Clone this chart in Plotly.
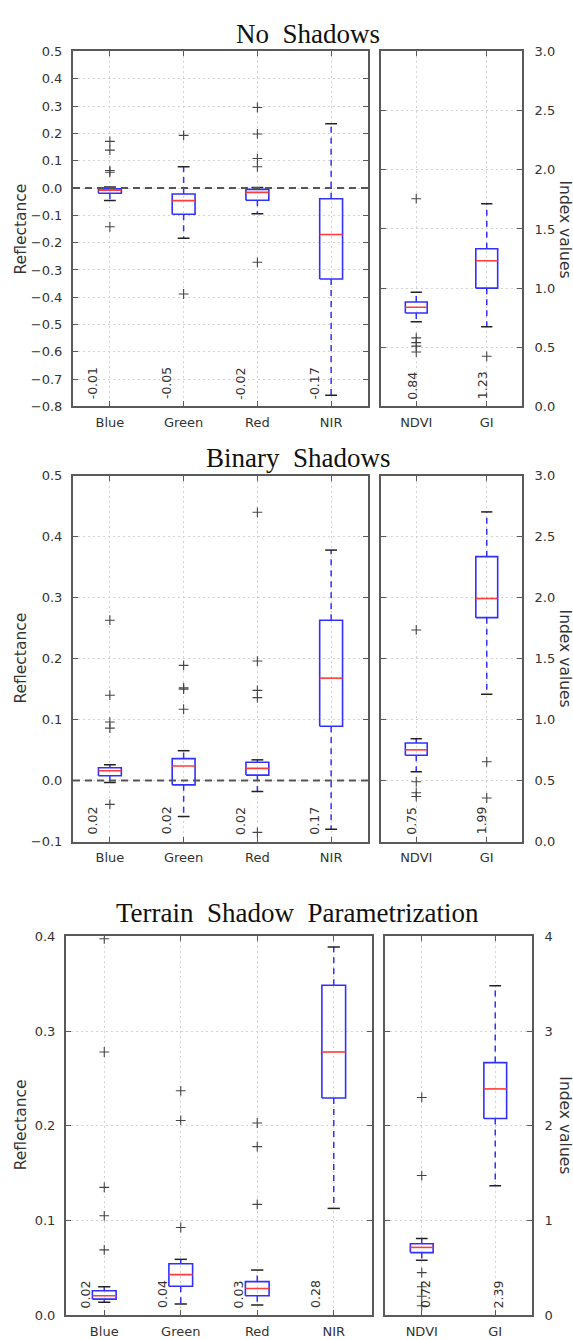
import plotly.graph_objects as go

# ---------------- data ----------------
bands = ["Blue", "Green", "Red", "NIR"]
indices = ["NDVI", "GI"]
titles = ["No  Shadows", "Binary  Shadows", "Terrain  Shadow  Parametrization"]

# No Shadows - bands
ns_b_q1 = [-0.019, -0.096, -0.045, -0.333]
ns_b_med = [-0.008, -0.046, -0.016, -0.170]
ns_b_q3 = [-0.003, -0.022, -0.005, -0.039]
ns_b_lo = [-0.046, -0.184, -0.094, -0.759]
ns_b_hi = [0.004, 0.078, 0.002, 0.235]
ns_b_out = [[0.171, 0.139, 0.064, 0.058, -0.142], [0.193, -0.388],
            [0.295, 0.198, 0.108, 0.078, -0.272], []]
# No Shadows - indices
ns_i_q1 = [0.790, 1.000]
ns_i_med = [0.838, 1.231]
ns_i_q3 = [0.883, 1.333]
ns_i_lo = [0.716, 0.674]
ns_i_hi = [0.965, 1.714]
ns_i_out = [[1.756, 0.58, 0.54, 0.51, 0.46], [0.424]]

# Binary Shadows - bands
bs_b_q1 = [0.008, -0.007, 0.009, 0.089]
bs_b_med = [0.016, 0.024, 0.020, 0.168]
bs_b_q3 = [0.021, 0.036, 0.030, 0.263]
bs_b_lo = [-0.003, -0.059, -0.018, -0.080]
bs_b_hi = [0.026, 0.049, 0.034, 0.378]
bs_b_out = [[0.263, 0.140, 0.096, 0.086, -0.039], [0.189, 0.152, 0.150, 0.117],
            [0.440, 0.196, 0.148, 0.136, -0.085], []]
# Binary Shadows - indices
bs_i_q1 = [0.708, 1.836]
bs_i_med = [0.752, 1.993]
bs_i_q3 = [0.808, 2.336]
bs_i_lo = [0.573, 1.208]
bs_i_hi = [0.843, 2.703]
bs_i_out = [[1.735, 0.49, 0.40, 0.37], [0.654, 0.357]]

# Terrain Shadow Parametrization - bands
tp_b_q1 = [0.0170, 0.0306, 0.0206, 0.2294]
tp_b_med = [0.0206, 0.0428, 0.0282, 0.278]
tp_b_q3 = [0.0258, 0.0543, 0.0355, 0.3485]
tp_b_lo = [0.0136, 0.0118, 0.0108, 0.1128]
tp_b_hi = [0.0300, 0.0590, 0.0477, 0.389]
tp_b_out = [[0.3976, 0.278, 0.135, 0.105, 0.069], [0.237, 0.2057, 0.0926],
            [0.203, 0.178, 0.117], []]
# Terrain Shadow Parametrization - indices
tp_i_q1 = [0.661, 2.077]
tp_i_med = [0.716, 2.390]
tp_i_q3 = [0.755, 2.668]
tp_i_lo = [0.580, 1.367]
tp_i_hi = [0.810, 3.480]
tp_i_out = [[2.30, 1.475, 0.45, 0.30, 0.20, 0.10], []]

# axis ranges / ticks
left_ranges = [[-0.8, 0.5], [-0.1, 0.5], [0.0, 0.4]]
left_dticks = [0.1, 0.1, 0.1]
right_ranges = [[0.0, 3.0], [0.0, 3.0], [0.0, 4.0]]
right_dticks = [0.5, 0.5, 1.0]
right_formats = [".1f", ".1f", "d"]
zero_line = [True, True, False]

# ---------------- layout geometry (pixels) ----------------
W, H = 573, 1340
panel_geom = [
    dict(lx=(73, 368), rx=(381, 522), y=(45, 404), ty=27, tx=308, ly=225, lxs=-17, rxs=-4),
    dict(lx=(73, 368), rx=(381, 522), y=(474, 844), ty=456, tx=298, ly=659, lxs=-17, rxs=-5),
    dict(lx=(66, 372), rx=(385, 532), y=(940, 1323), ty=916, tx=297, ly=1131, lxs=-19, rxs=3),
]

BOX_C = "#3030ff"
MED_C = "#ff3b3b"
CAP_C = "#222222"
FLIER_C = "#444444"
AX_C = "#5a5a5a"
TXT_C = "#333333"
FONT = "DejaVu Sans"

fig = go.Figure()
annotations = []
shapes = []

def fx(p):
    return p / W

def fy(p):
    return 1 - p / H

def ax_name(letter, n):
    return letter if n == 1 else f"{letter}{n}"

def add_boxes(xa, ya, q1, med, q3, lo, hi, outs):
    w, cw = 0.155, 0.08
    bx, by, mx, my, wx, wy, cx, cy, ox, oy = [], [], [], [], [], [], [], [], [], []
    for i in range(len(q1)):
        c = i + 1
        bx += [c - w, c + w, c + w, c - w, c - w, None]
        by += [q1[i], q1[i], q3[i], q3[i], q1[i], None]
        mx += [c - w, c + w, None]
        my += [med[i], med[i], None]
        wx += [c, c, None, c, c, None]
        wy += [q3[i], hi[i], None, q1[i], lo[i], None]
        cx += [c - cw, c + cw, None, c - cw, c + cw, None]
        cy += [hi[i], hi[i], None, lo[i], lo[i], None]
        for o in outs[i]:
            ox.append(c)
            oy.append(o)
    common = dict(xaxis=xa, yaxis=ya, showlegend=False, hoverinfo="skip")
    fig.add_trace(go.Scatter(x=wx, y=wy, mode="lines",
                             line=dict(color=BOX_C, width=1.5, dash="6px,5px"), **common))
    fig.add_trace(go.Scatter(x=bx, y=by, mode="lines",
                             line=dict(color=BOX_C, width=1.6), **common))
    fig.add_trace(go.Scatter(x=mx, y=my, mode="lines",
                             line=dict(color=MED_C, width=1.6), **common))
    fig.add_trace(go.Scatter(x=cx, y=cy, mode="lines",
                             line=dict(color=CAP_C, width=1.5), **common))
    fig.add_trace(go.Scatter(x=ox, y=oy, mode="markers",
                             marker=dict(symbol="cross-thin", size=7,
                                         line=dict(color=FLIER_C, width=1.1)), **common))

panel_data = [
    (ns_b_q1, ns_b_med, ns_b_q3, ns_b_lo, ns_b_hi, ns_b_out,
     ns_i_q1, ns_i_med, ns_i_q3, ns_i_lo, ns_i_hi, ns_i_out),
    (bs_b_q1, bs_b_med, bs_b_q3, bs_b_lo, bs_b_hi, bs_b_out,
     bs_i_q1, bs_i_med, bs_i_q3, bs_i_lo, bs_i_hi, bs_i_out),
    (tp_b_q1, tp_b_med, tp_b_q3, tp_b_lo, tp_b_hi, tp_b_out,
     tp_i_q1, tp_i_med, tp_i_q3, tp_i_lo, tp_i_hi, tp_i_out),
]

axis_common = dict(showline=True, mirror="ticks", linecolor=AX_C, linewidth=2,
                   ticks="inside", ticklen=5, tickwidth=1, tickcolor=AX_C,
                   showgrid=True, gridcolor="#d2d2d2", griddash="2px,3px", gridwidth=1,
                   zeroline=False, tickfont=dict(family=FONT, size=13, color=TXT_C),
                   fixedrange=True)

layout_axes = {}
for k in range(3):
    g = panel_geom[k]
    d = panel_data[k]
    la, ra = 2 * k + 1, 2 * k + 2
    xl, yl = ax_name("x", la), ax_name("y", la)
    xr, yr = ax_name("x", ra), ax_name("y", ra)
    kxl = "xaxis" if la == 1 else f"xaxis{la}"
    kyl = "yaxis" if la == 1 else f"yaxis{la}"
    kxr, kyr = f"xaxis{ra}", f"yaxis{ra}"

    add_boxes(xl, yl, *d[0:6])
    add_boxes(xr, yr, *d[6:12])

    dom_y = [fy(g["y"][1]), fy(g["y"][0])]
    layout_axes[kxl] = dict(axis_common, domain=[fx(g["lx"][0]), fx(g["lx"][1])],
                            range=[0.5, len(bands) + 0.5], tickvals=list(range(1, len(bands) + 1)),
                            ticktext=bands, anchor=yl, ticklabelstandoff=3)
    layout_axes[kyl] = dict(axis_common, domain=dom_y, range=left_ranges[k],
                            dtick=left_dticks[k], tick0=0, tickformat=".1f",
                            anchor=xl, ticklabelstandoff=6)
    layout_axes[kxr] = dict(axis_common, domain=[fx(g["rx"][0]), fx(g["rx"][1])],
                            range=[0.5, len(indices) + 0.5], tickvals=list(range(1, len(indices) + 1)),
                            ticktext=indices, anchor=yr, ticklabelstandoff=3)
    layout_axes[kyr] = dict(axis_common, domain=dom_y, range=right_ranges[k],
                            dtick=right_dticks[k], tick0=0, tickformat=right_formats[k],
                            side="right", anchor=xr, ticklabelstandoff=8)

    if zero_line[k]:
        shapes.append(dict(type="line", xref=f"{xl} domain", yref=yl, x0=0, x1=1, y0=0, y1=0,
                           line=dict(color="#555555", width=2, dash="7px,5px"), layer="above"))

    for i, m in enumerate(d[1]):
        annotations.append(dict(x=i + 1, y=left_ranges[k][0], xref=xl, yref=yl,
                                text=f"{m:.2f}", textangle=-90, showarrow=False,
                                xanchor="center", yanchor="bottom", xshift=g["lxs"], yshift=5,
                                font=dict(family=FONT, size=12.5, color=TXT_C)))
    for i, m in enumerate(d[7]):
        annotations.append(dict(x=i + 1, y=right_ranges[k][0], xref=xr, yref=yr,
                                text=f"{m:.2f}", textangle=-90, showarrow=False,
                                xanchor="center", yanchor="bottom", xshift=g["rxs"], yshift=5,
                                font=dict(family=FONT, size=12.5, color=TXT_C)))

    annotations.append(dict(x=fx(g["tx"]), y=fy(g["ty"]), xref="paper", yref="paper",
                            text=titles[k], showarrow=False, xanchor="center", yanchor="middle",
                            font=dict(family="Liberation Serif", size=27, color="#111111")))
    annotations.append(dict(x=fx(21), y=fy(g["ly"]), xref="paper", yref="paper",
                            text="Reflectance", textangle=-90, showarrow=False,
                            xanchor="center", yanchor="middle",
                            font=dict(family=FONT, size=15.5, color=TXT_C)))
    annotations.append(dict(x=fx(565), y=fy(g["ly"]), xref="paper", yref="paper",
                            text="Index values", textangle=90, showarrow=False,
                            xanchor="center", yanchor="middle",
                            font=dict(family=FONT, size=15.5, color=TXT_C)))

fig.update_layout(
    width=W, height=H, autosize=False,
    margin=dict(l=0, r=0, t=0, b=0),
    paper_bgcolor="white", plot_bgcolor="white",
    annotations=annotations, shapes=shapes,
    **layout_axes,
)

fig.write_html("out.html", config=dict(displayModeBar=False))
